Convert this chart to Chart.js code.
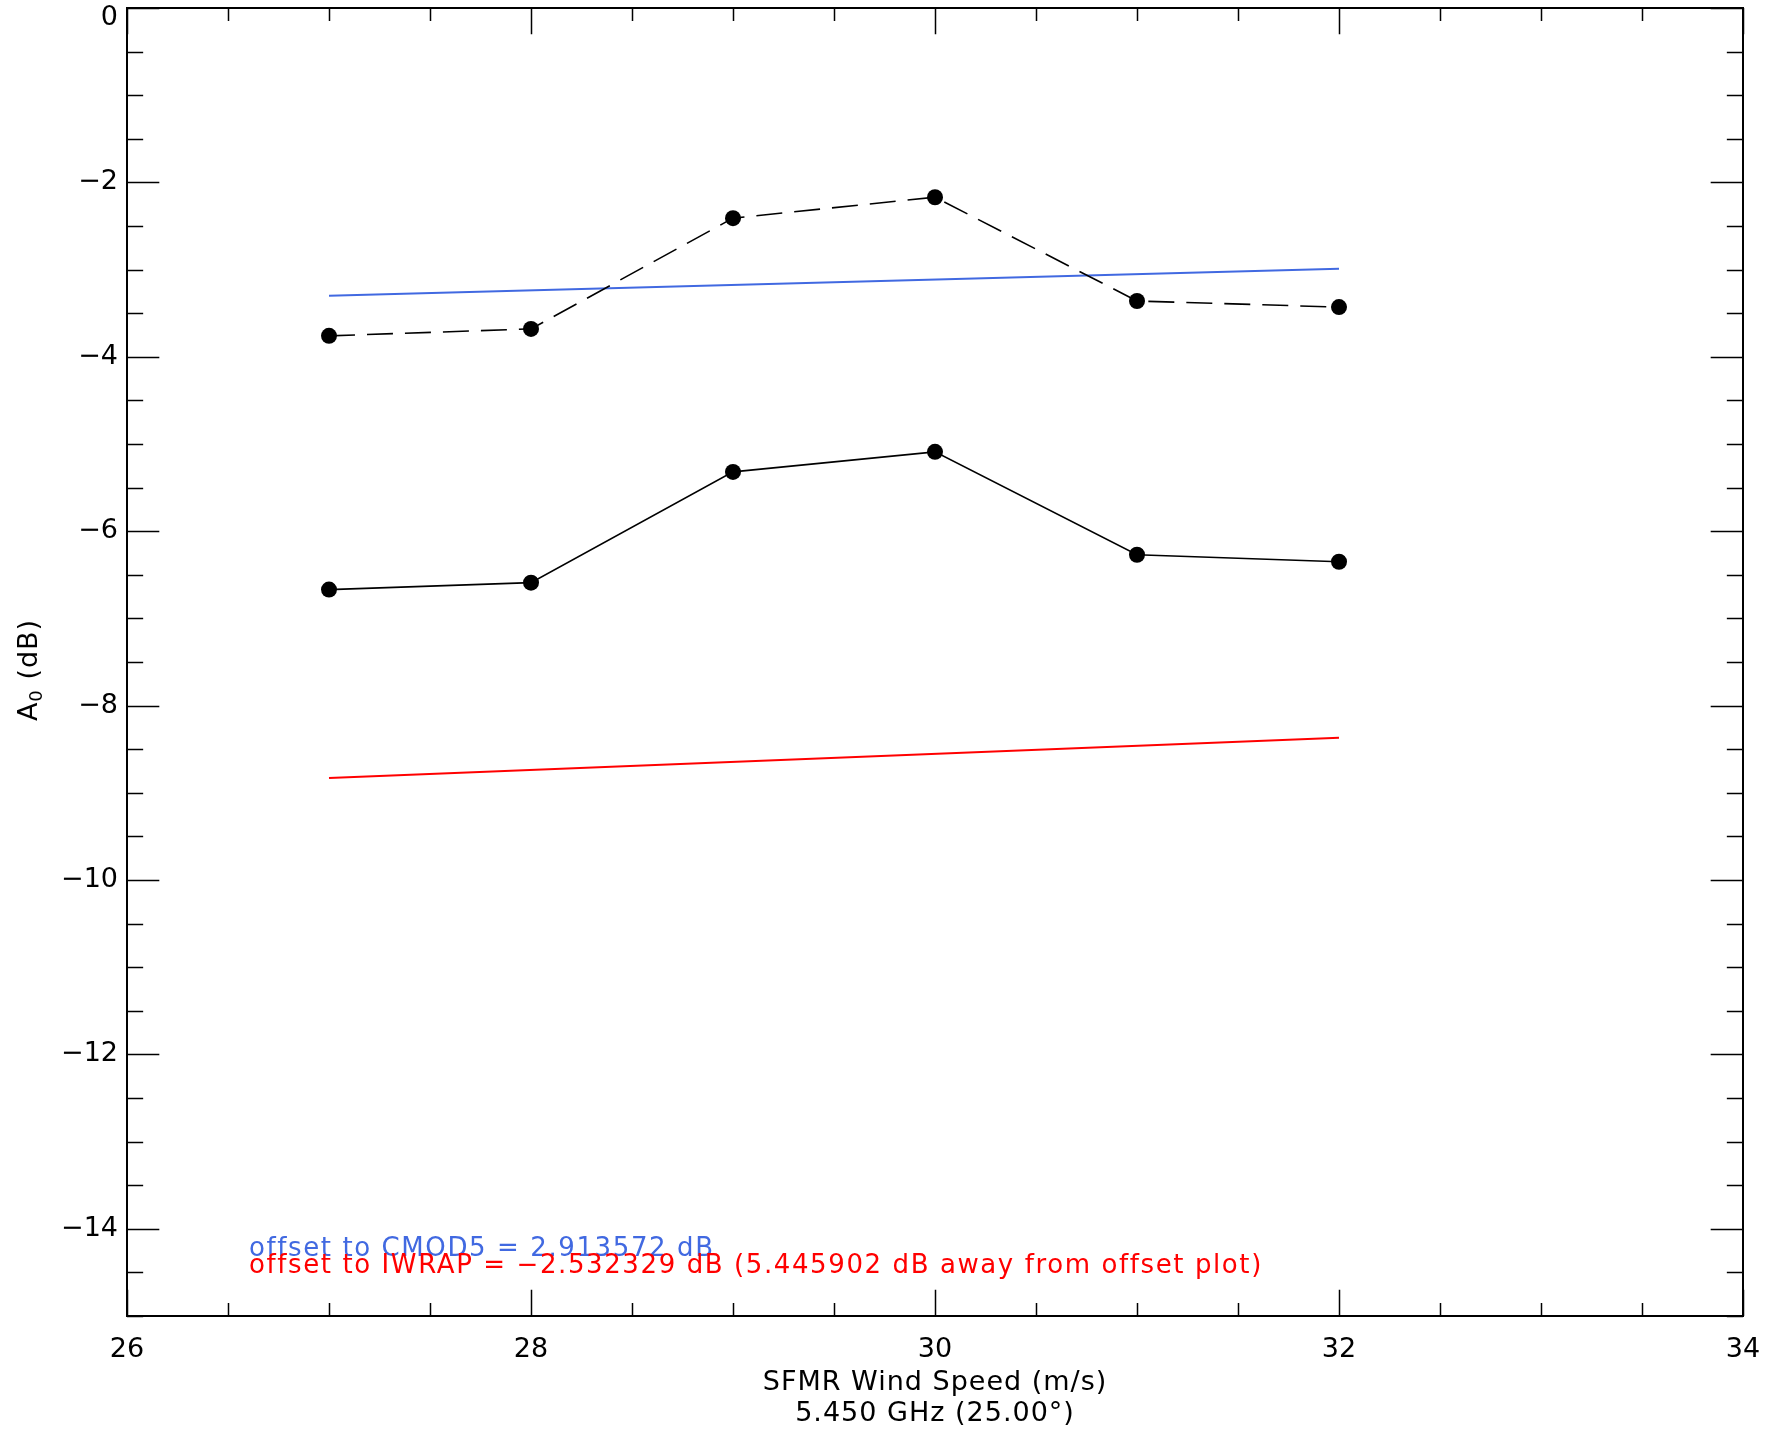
<!DOCTYPE html>
<html lang="en">
<head>
  <meta charset="UTF-8">
  <title>A0 vs SFMR Wind Speed</title>
  <style>
    body { margin:0; background:#fff; }
    #wrap { width:1775px; height:1438px; }
    canvas { display:block; }
  </style>
</head>
<body>
<div id="wrap"><canvas id="a0Chart" width="1775" height="1438"></canvas></div>
<script src="https://cdn.jsdelivr.net/npm/chart.js"></script>
<script>
// data
const windSpeed = [27, 28, 29, 30, 31, 32];
const a0Offset  = [-3.76, -3.68, -2.41, -2.17, -3.36, -3.43];   // dashed, with markers
const a0Plain   = [-6.67, -6.59, -5.32, -5.09, -6.27, -6.35];   // solid, with markers
const cmodX = [27, 32];
const cmodY = [-3.30, -2.99];
const iwrapX = [27, 32];
const iwrapY = [-8.83, -8.37];

const xTicks = [26, 28, 30, 32, 34];
const yTicks = [0, -2, -4, -6, -8, -10, -12, -14];
const xMinorStep = 0.5, yMinorStep = 0.5;

const cmodNote  = 'offset to CMOD5 = 2.913572 dB';
const iwrapNote = 'offset to IWRAP = \u22122.532329 dB (5.445902 dB away from offset plot)';
const xTitle = ['SFMR Wind Speed (m/s)', '5.450 GHz (25.00\u00b0)'];

const FONT = '"DejaVu Sans ExtraLight", "DejaVu Sans", "Liberation Sans", sans-serif';
const fmt = v => (v < 0 ? '\u2212' + Math.abs(v) : String(v));
const pts = (xs, ys) => xs.map((x, i) => ({ x: x, y: ys[i] }));

// frame, inward ticks, y labels, titles and notes (IDL style)
const idlAxes = {
  id: 'idlAxes',
  afterDraw(chart) {
    const c = chart.ctx, a = chart.chartArea;
    const xs = chart.scales.x, ys = chart.scales.y;
    const w = a.right - a.left, h = a.bottom - a.top;
    const xMaj = 0.02 * h, yMaj = 0.02 * w;
    c.save();
    c.strokeStyle = '#000';
    c.lineWidth = 2;
    c.strokeRect(a.left, a.top, w, h);
    c.lineWidth = 1.5;
    c.beginPath();
    for (let v = xs.min; v <= xs.max + 1e-9; v += xMinorStep) {
      const px = Math.round(xs.getPixelForValue(v)) + 0.5;
      const len = xTicks.includes(v) ? xMaj : xMaj / 2;
      c.moveTo(px, a.bottom); c.lineTo(px, a.bottom - len);
      c.moveTo(px, a.top); c.lineTo(px, a.top + len);
    }
    for (let v = ys.min; v <= ys.max + 1e-9; v += yMinorStep) {
      const py = Math.round(ys.getPixelForValue(v)) + 0.5;
      const len = yTicks.includes(v) ? yMaj : yMaj / 2;
      c.moveTo(a.left, py); c.lineTo(a.left + len, py);
      c.moveTo(a.right, py); c.lineTo(a.right - len, py);
    }
    c.stroke();

    c.fillStyle = '#000';
    c.font = '27px ' + FONT;
    c.textAlign = 'right';
    c.textBaseline = 'middle';
    yTicks.forEach(v => {
      const py = Math.max(ys.getPixelForValue(v), 18);
      c.fillText(fmt(v), a.left - 9, py);
    });

    // x title, two lines
    c.textAlign = 'center';
    c.letterSpacing = '1px';
    const cx = (a.left + a.right) / 2;
    c.fillText(xTitle[0], cx, 1383);
    c.fillText(xTitle[1], cx, 1414);

    // y title: A with subscript 0
    c.save();
    c.translate(30, (a.top + a.bottom) / 2 + 8);
    c.rotate(-Math.PI / 2);
    c.textAlign = 'left';
    c.font = '27px ' + FONT;
    const wA = c.measureText('A').width;
    c.font = '18px ' + FONT;
    const w0 = c.measureText('0').width;
    c.font = '27px ' + FONT;
    const wRest = c.measureText(' (dB)').width;
    let sx = -(wA + w0 + wRest) / 2;
    c.fillText('A', sx, 0);
    c.font = '18px ' + FONT;
    c.fillText('0', sx + wA, 7);
    c.font = '27px ' + FONT;
    c.fillText(' (dB)', sx + wA + w0, 0);
    c.restore();

    // offset notes
    c.textAlign = 'left';
    c.letterSpacing = '1.6px';
    c.font = '26px ' + FONT;
    c.fillStyle = '#4169e1';
    c.fillText(cmodNote, 249, 1249);
    c.fillStyle = '#ff0000';
    c.fillText(iwrapNote, 249, 1266);
    c.restore();
  }
};

new Chart(document.getElementById('a0Chart'), {
  type: 'line',
  data: {
    datasets: [
      { data: pts(windSpeed, a0Offset), borderColor: '#000', borderWidth: 1.6, borderDash: [26, 12],
        pointRadius: 8, pointBackgroundColor: '#000', pointBorderWidth: 0 },
      { data: pts(windSpeed, a0Plain), borderColor: '#000', borderWidth: 1.6,
        pointRadius: 8, pointBackgroundColor: '#000', pointBorderWidth: 0 },
      { data: pts(cmodX, cmodY), borderColor: '#4169e1', borderWidth: 2, pointRadius: 0 },
      { data: pts(iwrapX, iwrapY), borderColor: '#ff0000', borderWidth: 2, pointRadius: 0 }
    ]
  },
  options: {
    responsive: false,
    devicePixelRatio: 1,
    animation: false,
    layout: { padding: { top: 7, right: 32, left: 0, bottom: 0 } },
    plugins: { legend: { display: false }, tooltip: { enabled: false } },
    scales: {
      x: {
        type: 'linear', min: 26, max: 34,
        afterBuildTicks: s => { s.ticks = xTicks.map(v => ({ value: v })); },
        afterFit: s => { s.height = 122; s.paddingLeft = 0; s.paddingRight = 0; },
        ticks: { color: '#000', font: { family: FONT, size: 27 }, padding: 18,
                 maxRotation: 0, autoSkip: false, callback: v => fmt(v) },
        grid: { display: false, drawTicks: false },
        border: { display: false }
      },
      y: {
        type: 'linear', min: -15, max: 0,
        afterBuildTicks: s => { s.ticks = yTicks.map(v => ({ value: v })); },
        afterFit: s => { s.width = 127; s.paddingTop = 0; s.paddingBottom = 0; },
        ticks: { display: false },
        grid: { display: false, drawTicks: false },
        border: { display: false }
      }
    }
  },
  plugins: [idlAxes]
});
</script>
</body>
</html>
